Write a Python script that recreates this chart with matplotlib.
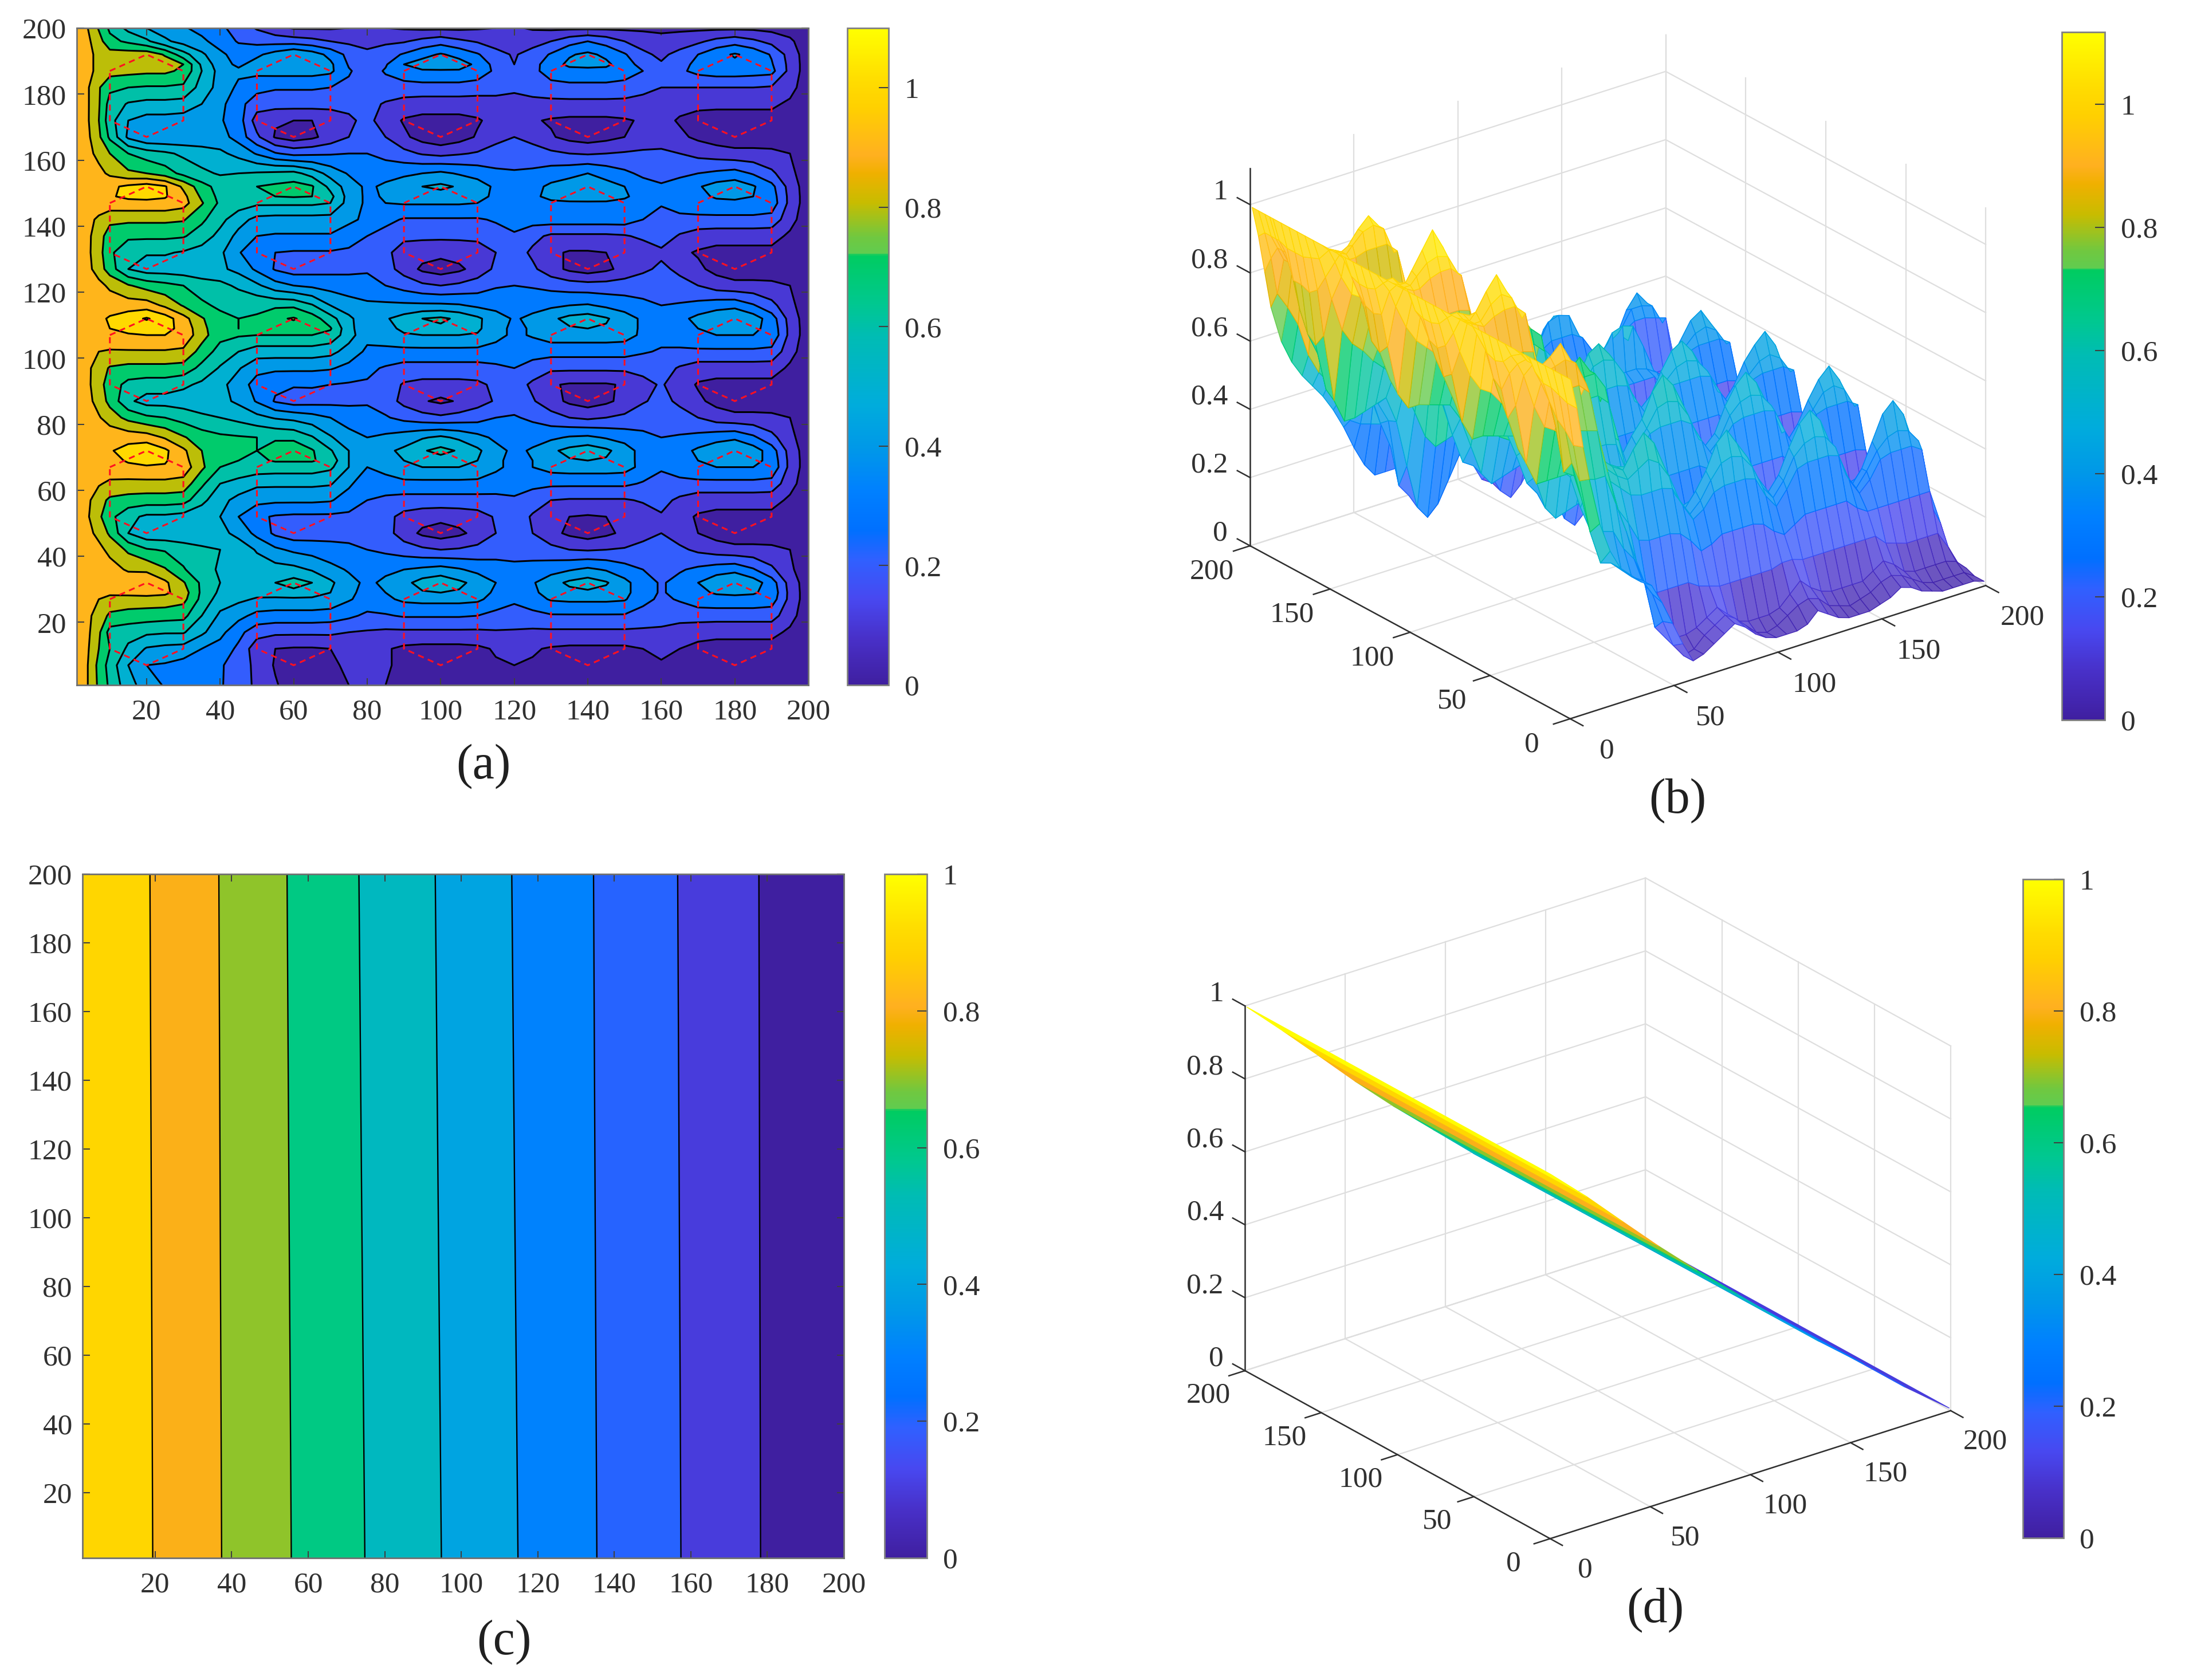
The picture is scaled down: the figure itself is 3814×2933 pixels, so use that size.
import numpy as np
import matplotlib
matplotlib.use('Agg')
import matplotlib.pyplot as plt
from matplotlib.colors import LinearSegmentedColormap, Normalize
from matplotlib.cm import ScalarMappable
from mpl_toolkits.mplot3d import proj3d

plt.rcParams['font.family'] = ['Liberation Serif', 'DejaVu Serif']

W, H = 3814, 2933

# colour bar
cmap_pos = [0, .07, .13, .19, .235, .295, .36, .426, .53, .58, .655, .657, .682, .735, .78, .807, .88, .92, 1]
cmap_col = ['#3F1FA0', '#4830C8', '#4848F0', '#3060FF', '#0070FF', '#0080FF', '#0098E8', '#00ACDC', '#00BCB4',
            '#00C890', '#00CC60', '#60CC50', '#70C840', '#C8BC00', '#F0B000', '#FFB020', '#FFD000', '#FFDC00', '#FFFF00']

# panel a/b field, z in percent, one row per y
x_a = [1, 4, 7, 10, 15, 20, 25, 30, 35, 40, 45, 50, 55, 60, 65, 70, 75, 80, 85, 90, 95, 100, 105, 110, 115, 120,
       125, 130, 135, 140, 145, 150, 155, 160, 165, 170, 175, 180, 185, 190, 195, 200]
y_a = [1, 7, 12, 17, 22, 27, 29, 32, 36, 42, 47, 52, 57, 62, 67, 69, 72, 76, 82, 87, 92, 97, 102, 107, 109, 112, 116,
       122, 127, 132, 137, 142, 147, 149, 152, 156, 162, 167, 172, 177, 182, 187, 189, 192, 196, 200]
z_a = [
    [99,90,78,68,54,45, 39,36,33,31, 25,18,11,5, 6,8,10,12, 10,7,5,4, 4,4,5,8, 6,4,3,3, 3,4,5,7, 6,4,3,2, 2,2,2,1],
    [99,90,77,66,50,40, 39,36,33,31, 26,17,9,5, 6,9,11,13, 11,8,5,4, 5,7,9,10, 9,6,5,4, 5,6,8,9, 8,6,4,3, 3,3,3,1],
    [99,91,80,70,58,49, 47,46,40,36, 28,14,10,9, 9,10,12,14, 11,8,7,7, 7,8,11,14, 11,9,8,8, 8,8,10,12, 10,7,6,6, 6,6,5,2],
    [99,92,82,66,64,62, 61,61,52,43, 33,24,22,22, 22,22,20,19, 18,18,18,18, 18,18,19,19, 18,18,18,18, 18,18,18,18, 15,14,13,13, 13,13,8,2],
    [99,92,86,78,76,75, 74,73,60,48, 43,37,36,36, 36,35,32,28, 29,31,31,31, 31,30,27,25, 27,29,29,29, 29,29,26,24, 24,24,24,24, 24,24,14,3],
    [99,94,90,87,86,86, 86,83,67,55, 52,49,48,48, 48,47,41,36, 38,42,43,43, 43,42,36,32, 36,41,42,42, 42,41,33,28, 31,36,37,37, 37,35,17,4],
    [99,96,94,92,93,94, 92,85,68,58, 55,53,55,57, 55,50,42,37, 40,45,49,50, 49,45,38,34, 38,44,47,48, 47,43,34,29, 33,38,41,42, 41,37,17,4],
    [99,96,95,93,95,98, 92,81,68,60, 57,55,60,64, 60,52,43,38, 42,47,54,57, 52,47,40,35, 39,46,52,55, 51,43,34,29, 33,40,47,50, 45,35,16,4],
    [99,97,95,93,89,88, 81,71,63,59, 57,55,54,53, 49,43,39,37, 38,40,42,44, 41,37,34,32, 34,36,39,42, 39,34,30,28, 29,32,35,37, 31,22,12,3],
    [99,95,92,88,78,71, 69,65,62,60, 56,49,42,38, 36,34,32,30, 28,25,22,20, 21,23,26,27, 25,23,20,19, 20,21,23,24, 22,18,15,13, 13,12,10,3],
    [99,92,88,78,60,53, 53,53,53,53, 47,37,28,24, 25,26,27,28, 24,15,8,5, 8,13,20,24, 20,13,8,5, 8,12,17,20, 15,10,6,4, 4,5,6,2],
    [99,91,82,73,63,58, 58,56,53,50, 40,32,29,28, 28,28,28,28, 23,17,14,13, 14,16,21,25, 19,12,10,9, 10,11,15,19, 13,9,7,7, 7,7,6,2],
    [99,92,84,78,76,75, 75,74,63,53, 47,43,42,42, 42,41,35,30, 28,26,26,26, 26,26,27,29, 24,20,19,19, 19,19,21,23, 18,14,14,14, 14,14,8,2],
    [99,95,91,88,87,87, 87,86,72,60, 56,52,52,52, 52,51,42,33, 35,37,37,37, 37,37,35,33, 33,32,32,32, 32,32,29,27, 27,27,27,27, 27,26,14,3],
    [99,98,97,96,98,99, 99,96,82,70, 68,66,65,65, 65,62,50,40, 44,49,50,50, 50,48,42,37, 40,44,45,45, 45,44,37,31, 35,39,40,40, 40,38,17,4],
    [99,98,97,97,101,103, 101,94,81,71, 70,68,71,71, 71,66,50,41, 46,50,55,56, 55,50,42,37, 40,46,49,50, 49,45,36,31, 35,40,44,45, 43,37,17,4],
    [99,98,97,99,104,108, 102,92,80,73, 72,70,73,76, 71,61,50,43, 48,52,59,63, 59,52,43,38, 41,48,53,56, 52,45,36,32, 36,42,47,50, 45,35,16,4],
    [99,99,98,97,96,95, 89,81,75,72, 71,70,69,68, 61,51,44,40, 42,45,49,52, 48,43,38,36, 37,38,41,42, 39,36,32,30, 31,33,36,38, 32,23,13,3],
    [99,96,91,85,77,72, 70,66,62,60, 57,53,49,47, 44,40,35,33, 31,27,24,22, 24,26,30,31, 28,24,20,18, 20,22,26,27, 24,20,15,13, 13,12,10,3],
    [99,93,86,77,62,56, 56,55,54,53, 48,39,29,25, 26,27,28,29, 25,17,11,8, 11,16,21,25, 21,14,8,5, 8,13,19,23, 18,12,7,4, 4,5,6,2],
    [99,92,84,75,67,65, 65,62,58,53, 45,36,32,31, 31,30,29,29, 25,19,17,17, 17,18,22,25, 18,11,9,9, 9,11,17,21, 15,9,7,7, 7,7,6,2],
    [99,92,85,79,77,77, 77,76,67,59, 51,43,42,42, 42,41,37,32, 29,26,26,26, 26,26,28,30, 26,22,22,22, 22,22,23,24, 19,15,15,15, 15,15,8,2],
    [99,93,90,89,89,89, 89,88,76,66, 60,55,55,55, 55,53,46,38, 37,37,37,37, 37,37,36,34, 34,34,34,34, 34,34,31,29, 28,28,28,28, 28,27,14,3],
    [99,98,97,97,99,100, 100,97,84,73, 71,70,70,70, 70,67,54,43, 46,49,50,50, 50,49,43,38, 41,45,45,45, 45,44,38,33, 36,39,40,40, 40,38,17,4],
    [99,98,98,100,103,104, 103,97,83,73, 70,71,74,75, 74,71,53,43, 47,52,57,58, 57,52,43,38, 41,46,49,50, 49,45,38,33, 36,40,43,44, 42,37,17,4],
    [99,98,98,101,106,111, 105,94,81,73, 70,71,78,81, 75,64,52,44, 49,54,60,62, 58,52,44,39, 42,48,53,55, 51,45,38,33, 37,43,47,50, 45,35,16,4],
    [99,99,97,96,95,95, 88,79,72,68, 68,68,68,68, 61,50,45,42, 42,42,42,42, 41,38,37,36, 37,38,40,41, 38,35,32,30, 31,33,36,37, 31,23,13,3],
    [99,96,93,88,81,76, 73,70,65,63, 58,52,44,40, 38,36,34,33, 30,26,22,20, 22,25,29,30, 29,27,25,24, 24,25,26,26, 23,20,15,13, 13,12,10,3],
    [99,93,85,75,60,55, 55,54,53,52, 47,38,29,25, 26,27,28,29, 24,16,8,5, 8,14,22,26, 22,14,8,5, 8,13,18,22, 18,12,7,4, 4,5,6,2],
    [99,92,84,72,63,61, 61,59,56,52, 41,32,30,29, 29,29,28,28, 22,16,14,13, 14,16,20,25, 18,12,9,9, 10,11,14,18, 12,9,7,7, 7,7,6,2],
    [99,92,85,74,72,72, 72,71,65,57, 47,40,39,39, 39,39,35,30, 26,22,22,22, 22,22,26,29, 23,18,18,18, 18,19,22,25, 19,15,14,14, 14,14,8,2],
    [99,93,88,83,82,82, 82,81,72,63, 54,47,46,46, 46,46,42,38, 33,29,29,29, 29,29,31,33, 34,35,35,35, 35,35,30,26, 27,27,27,27, 27,26,14,3],
    [99,97,96,96,97,97, 97,94,81,68, 65,62,62,62, 62,60,46,38, 40,41,41,41, 41,40,38,35, 36,37,37,37, 37,36,34,31, 35,37,38,38, 38,36,17,4],
    [99,98,97,99,102,103, 101,93,78,67, 66,66,70,71, 70,63,46,38, 41,43,45,46, 45,43,38,35, 37,44,49,50, 49,42,34,31, 35,38,41,42, 40,35,17,4],
    [99,98,97,98,102,105, 101,88,74,66, 66,70,72,74, 71,57,45,38, 42,46,50,52, 49,45,38,35, 37,42,45,47, 44,40,34,31, 34,39,44,46, 41,33,16,4],
    [99,97,93,88,82,80, 75,67,62,59, 60,61,62,63, 56,46,39,35, 36,38,40,42, 39,36,32,31, 32,35,37,40, 36,32,28,27, 28,30,32,34, 29,22,13,3],
    [99,93,87,80,70,65, 62,58,55,52, 47,39,31,27, 28,29,30,30, 27,23,19,17, 19,21,24,25, 24,22,20,19, 20,21,22,22, 20,17,15,13, 13,12,10,3],
    [99,92,82,68,48,41, 41,42,43,44, 36,22,9,5, 8,14,20,24, 20,12,6,3, 6,11,17,20, 17,11,7,5, 7,10,13,15, 12,8,5,4, 4,5,6,2],
    [99,91,80,64,50,46, 46,45,44,41, 35,15,11,10, 10,12,18,23, 15,9,7,7, 7,9,13,16, 11,9,8,8, 8,9,11,13, 9,7,6,6, 6,6,6,2],
    [99,91,81,66,59,57, 57,56,50,43, 33,25,24,24, 24,24,23,23, 19,16,15,15, 15,15,17,18, 17,17,17,17, 17,17,16,15, 13,12,12,12, 12,12,8,2],
    [99,91,81,72,70,69, 69,68,56,46, 38,33,31,31, 31,30,28,25, 26,26,26,26, 26,25,23,21, 24,26,27,27, 27,26,23,20, 20,20,20,20, 20,19,14,3],
    [99,92,88,84,83,82, 82,78,60,46, 42,43,44,44, 44,42,31,25, 31,36,39,39, 39,36,28,21, 27,35,37,37, 37,35,30,23, 28,33,35,35, 34,33,17,4],
    [99,92,88,84,85,86, 85,80,58,44, 38,44,46,47, 46,42,29,23, 29,40,44,45, 44,38,26,20, 26,36,42,43, 42,35,26,21, 26,33,38,38, 37,31,17,4],
    [99,92,88,84,85,86, 79,64,52,42, 36,38,44,50, 45,37,27,22, 26,31,37,41, 37,31,23,19, 24,31,39,42, 38,31,22,18, 23,30,37,41, 37,29,16,4],
    [99,92,84,73,68,62, 52,46,42,36, 29,27,26,25, 23,20,18,17, 18,19,23,26, 22,19,16,14, 16,20,26,30, 26,20,16,13, 15,18,23,26, 22,17,12,3],
    [99,90,79,68,57,50, 45,41,37,32, 26,19,13,9, 9,9,10,11, 10,9,8,8, 8,9,10,11, 9,8,8,8, 8,8,8,8, 8,8,8,8, 8,7,5,2],
]

# panel c/d field, x knots are where the contours cross
x_c = [1, 19, 37, 55, 74, 94, 114, 135, 157, 178, 200]
y_c = [1, 100, 200]
z_c_bottom = [.995, .902, .802, .703, .604, .504, .404, .302, .202, .101, .005]
z_c_middle = [.995, .900, .800, .700, .600, .500, .400, .300, .200, .100, .005]
z_c_top = [.995, .898, .798, .697, .596, .496, .396, .298, .198, .099, .005]

levels_a = [0, .1, .2, .3, .4, .5, .6, .7, .8, .9, 1.0, 1.1, 1.2]
levels_c = [0, .1, .2, .3, .4, .5, .6, .7, .8, .9, 1.0]
flat_ticks = [20, 40, 60, 80, 100, 120, 140, 160, 180, 200]
bar_ticks = [0, .2, .4, .6, .8, 1]
bar_labels = ['0', '0.2', '0.4', '0.6', '0.8', '1']
mesh_ticks = [0, 50, 100, 150, 200]

# dashed hexagons
hex_cx = [20, 60, 100, 140, 180]
hex_top = [32, 72, 112, 152, 192]
hex_dx = [-10, 0, 10, 10, 0, -10, -10]
hex_dy = [-5, 0, -5, -20, -25, -20, -5]

cmap = LinearSegmentedColormap.from_list('bar', list(zip(cmap_pos, cmap_col)), N=512)
TXT = '#303030'
FS = 37


def box(l, t, r, b):
    return [l / W, 1 - b / H, (r - l) / W, (b - t) / H]


def flat_panel(rect):
    ax = fig.add_axes(box(*rect))
    ax.set_xlim(1, 200)
    ax.set_ylim(1, 200)
    ax.set_xticks(flat_ticks)
    ax.set_yticks(flat_ticks)
    ax.tick_params(direction='in', length=9, width=1.5, top=True, right=True, labelsize=FS,
                   labelcolor=TXT, color='#404040')
    ax.tick_params(axis='x', pad=17)
    ax.tick_params(axis='y', pad=13)
    for s in ax.spines.values():
        s.set_color('#707070')
        s.set_linewidth(2)
    return ax


def bar(rect, vmax):
    cax = fig.add_axes(box(*rect))
    cb = fig.colorbar(ScalarMappable(Normalize(0, vmax), cmap), cax=cax)
    cb.set_ticks(bar_ticks, labels=bar_labels)
    cax.tick_params(direction='in', length=12, width=1.5, labelsize=FS, labelcolor=TXT, color='#404040', pad=20)
    cb.outline.set_edgecolor('#808080')
    cb.outline.set_linewidth(2)


def to_px(ax, x, y, z):
    ax.apply_aspect()
    xs, ys, _ = proj3d.proj_transform(np.atleast_1d(x), np.atleast_1d(y), np.atleast_1d(z), ax.get_proj())
    return ax.transData.transform(np.column_stack([xs, ys]))


def place_3d(ax, origin, yend, xend):
    # move the axes so that the floor corners land on the wanted pixels
    target = np.array([origin, yend, xend], float)
    target[:, 1] = H - target[:, 1]
    for i in range(4):
        px = to_px(ax, [0, 0, 200], [0, 200, 0], [0, 0, 0])
        s = np.linalg.norm(target[1] - target[2]) / np.linalg.norm(px[1] - px[2])
        p = ax.get_position(original=True)
        d = target.mean(axis=0) - px.mean(axis=0)
        cx = p.x0 + p.width / 2 + d[0] / W
        cy = p.y0 + p.height / 2 + d[1] / H
        nw, nh = p.width * s, p.height * s
        ax.set_position([cx - nw / 2, cy - nh / 2, nw, nh])


def mesh_panel(x, y, z, zmax, aspect, view, norm_max, light):
    ax = fig.add_axes([.5, .2, .4, .4], projection='3d', proj_type='ortho')
    ax.computed_zorder = False
    ax.set_box_aspect(aspect)
    ax.view_init(elev=view[0], azim=view[1])
    ax.set_xlim(0, 200)
    ax.set_ylim(0, 200)
    ax.set_zlim(0, zmax)
    ax.set_xticks([])
    ax.set_yticks([])
    ax.set_zticks([])
    ax.set_axis_off()
    ax.patch.set_visible(False)
    g = dict(color='#DEDEDE', lw=1.6, zorder=1)
    for t in mesh_ticks:
        ax.plot([t, t], [0, 200], [0, 0], **g)
        ax.plot([0, 200], [t, t], [0, 0], **g)
        ax.plot([t, t], [200, 200], [0, zmax], **g)
        ax.plot([200, 200], [t, t], [0, zmax], **g)
    for t in bar_ticks:
        ax.plot([0, 200], [200, 200], [t, t], **g)
        ax.plot([200, 200], [0, 200], [t, t], **g)

    X, Y = np.meshgrid(x, y)
    rgba = cmap(z / norm_max)
    face = rgba.copy()
    face[..., :3] = rgba[..., :3] * (1 - light) + light
    surf = ax.plot_surface(X, Y, z, rstride=1, cstride=1, facecolors=rgba, shade=False, linewidth=1.0,
                           antialiased=True, zorder=2)
    surf.set_facecolor(face[:-1, :-1].reshape(-1, 4))
    surf.set_edgecolor(rgba[:-1, :-1].reshape(-1, 4))

    a = dict(color='#303030', lw=1.8, zorder=3)
    ax.plot([0, 200], [0, 0], [0, 0], **a)
    ax.plot([0, 0], [0, 200], [0, 0], **a)
    ax.plot([0, 0], [200, 200], [0, zmax], **a)
    for t in mesh_ticks:
        ax.plot([t, t], [0, -8], [0, 0], **a)
        ax.plot([0, -8], [t, t], [0, 0], **a)
    for t in bar_ticks:
        ax.plot([0, 0], [200, 208], [t, t], **a)
    return ax


def mesh_labels(ax):
    # labels go on the figure, at the projected place of each tick
    def put(x, y, z, s, ha):
        px = to_px(ax, x, y, z)[0]
        fig.text(px[0] / W, px[1] / H, s, fontsize=FS, color=TXT, ha=ha, va='center')
    for t in mesh_ticks:
        put(t - 7, -32, 0, str(t), 'center')
        put(-26, t - 10, 0, str(t), 'center')
    for t, lab in zip(bar_ticks, bar_labels):
        put(0, 214, t, lab, 'right')


fig = plt.figure(figsize=(W / 100, H / 100), dpi=100)

# (a)
Z_a = np.array(z_a) / 100
ax = flat_panel((134, 49, 1411, 1196))
band_a = [cmap(v / 1.1) for v in levels_a[:-1]]
band_a[-1] = '#F0C020'
ax.contourf(x_a, y_a, Z_a, levels=levels_a, colors=band_a)
ax.contour(x_a, y_a, Z_a, levels=levels_a[1:-1], colors='k', linewidths=2.2)
for top in hex_top:
    for cx in hex_cx:
        ax.plot(np.add(cx, hex_dx), np.add(top, hex_dy), color='#FF1020', lw=2.2, ls=(0, (3.5, 2.5)))
bar((1479, 49, 1551, 1196), 1.1)

# (b)
ax_b = mesh_panel(x_a, y_a, Z_a, 1.107, (1, 1, .792), (24.6, -127.6), 1.1, .22)
place_3d(ax_b, (2741, 1255), (2182, 952), (3466, 1023))
mesh_labels(ax_b)
bar((3599, 56, 3674, 1257), 1.117)

# (c)
Z_c = np.array([z_c_bottom, z_c_middle, z_c_top])
ax = flat_panel((144, 1526, 1473, 2720))
band_c = [cmap(v) for v in levels_c[:-1]]
ax.contourf(x_c, y_c, Z_c, levels=levels_c, colors=band_c)
ax.contour(x_c, y_c, Z_c, levels=levels_c[1:-1], colors='k', linewidths=1.7)
bar((1544, 1526, 1618, 2720), 1.0)

# (d)
ax_d = mesh_panel(x_c, y_c, Z_c, 1.0, (1, 1, .798), (24.8, -127.3), 1.0, 0)
place_3d(ax_d, (2706, 2686), (2173, 2394), (3405, 2462))
mesh_labels(ax_d)
bar((3531, 1535, 3602, 2685), 1.0)

for lab, px, py in [('(a)', 844, 1338), ('(b)', 2928, 1398), ('(c)', 880, 2867), ('(d)', 2889, 2811)]:
    fig.text(px / W, 1 - py / H, lab, fontsize=62, color='#202020', ha='center', va='center')

fig.savefig('out.png', dpi=100)
